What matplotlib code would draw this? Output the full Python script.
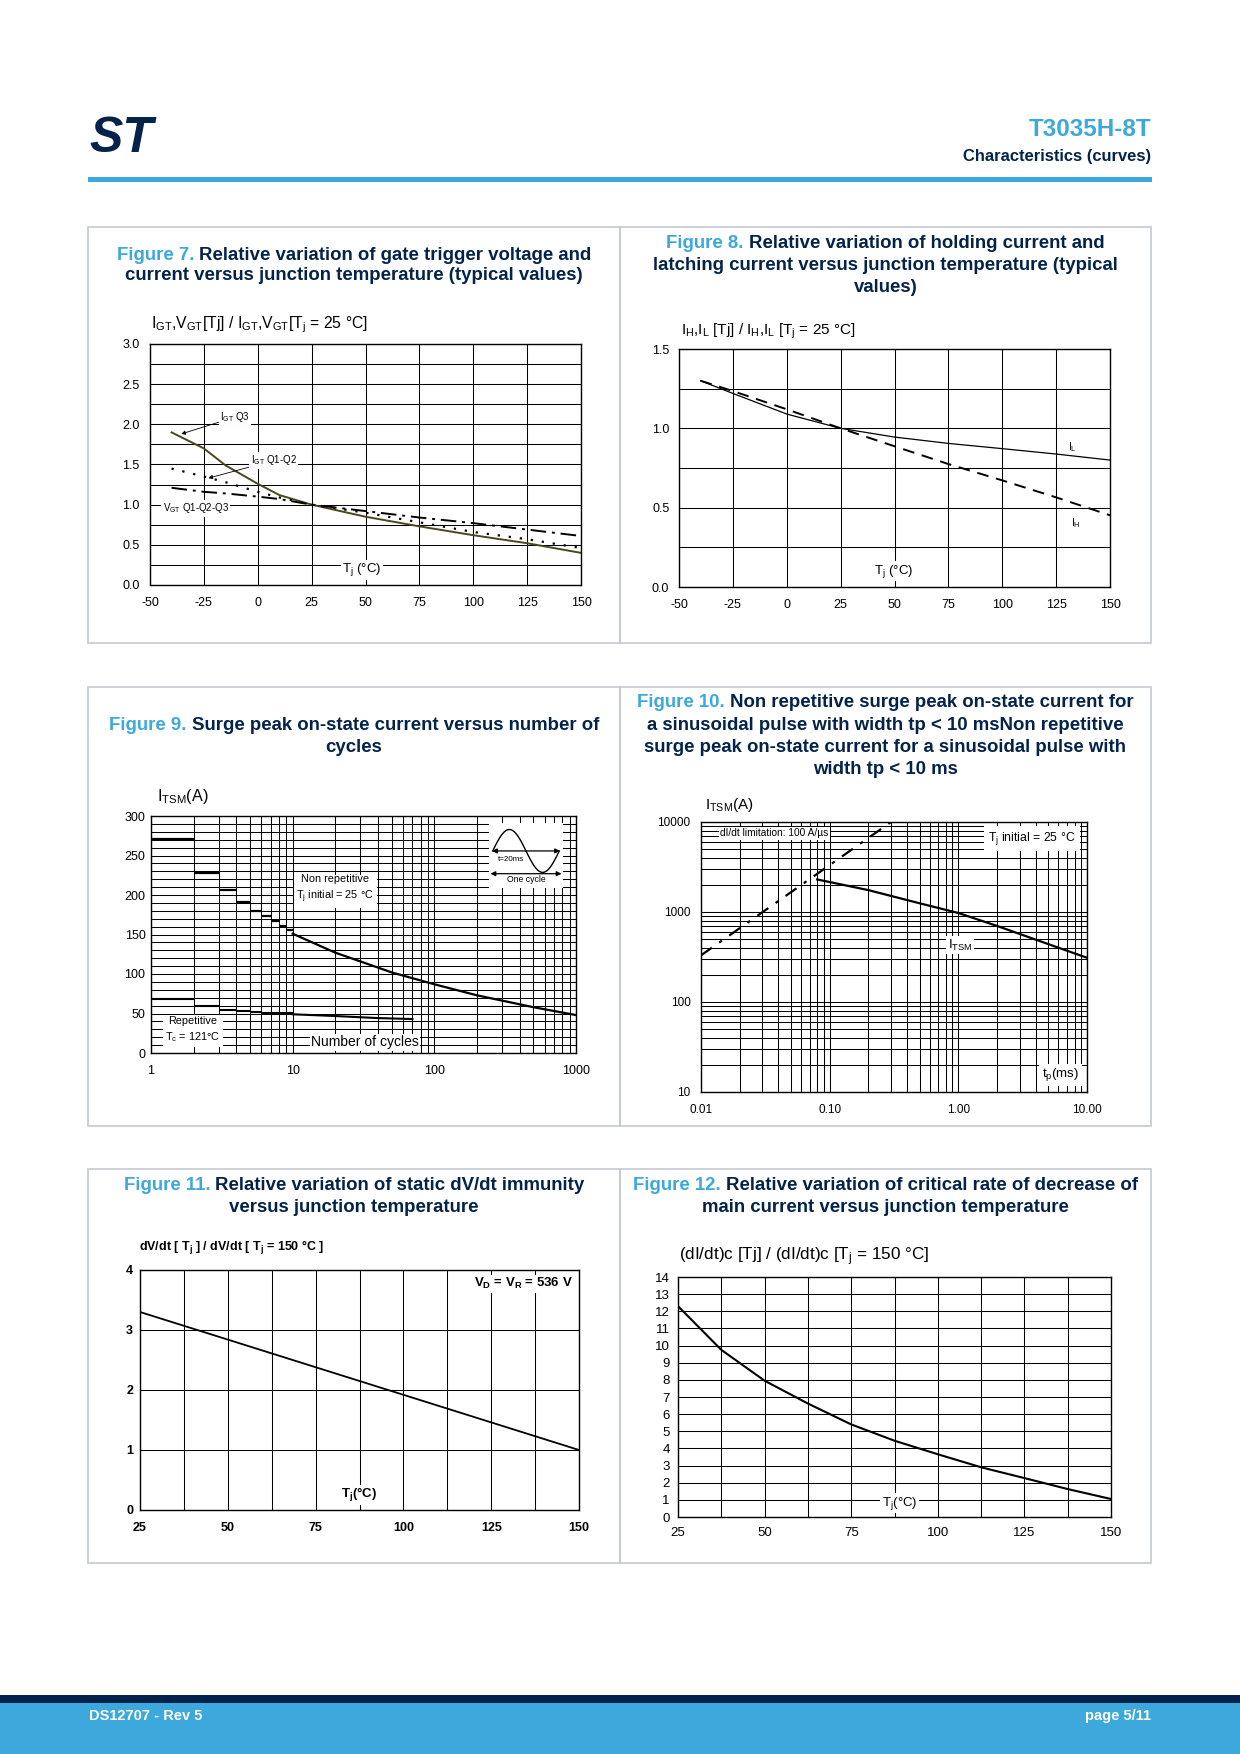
import numpy as np
import matplotlib
matplotlib.use('Agg')
import matplotlib.pyplot as plt
from matplotlib.patches import Rectangle
from matplotlib.ticker import LogLocator, NullFormatter, FixedLocator, FixedFormatter, MultipleLocator

W, H = 1240, 1754
NAVY = '#03234B'
BLUE = '#3CA8DC'
PANEL = '#C3CAD1'

plt.rcParams['font.family'] = ['Liberation Sans', 'DejaVu Sans']
plt.rcParams['axes.unicode_minus'] = False
plt.rcParams['mathtext.fontset'] = 'custom'
plt.rcParams['mathtext.rm'] = 'Liberation Sans'
plt.rcParams['mathtext.it'] = 'Liberation Sans:italic'
plt.rcParams['mathtext.bf'] = 'Liberation Sans:bold'

# ---- data ----
# fig 7
f7_tj = [-40, -25, -15, 0, 10, 25, 50, 75, 100, 125, 150]
igt_q3 = [1.90, 1.70, 1.49, 1.26, 1.12, 1.00, 0.85, 0.73, 0.62, 0.52, 0.40]
igt_q12 = [1.45, 1.35, 1.28, 1.16, 1.09, 1.00, 0.90, 0.78, 0.66, 0.57, 0.46]
vgt_q123 = [1.21, 1.16, 1.14, 1.10, 1.07, 1.00, 0.92, 0.84, 0.77, 0.69, 0.61]
# fig 8
f8_tj = [-40, -25, 0, 25, 50, 75, 100, 125, 150]
il = [1.30, 1.22, 1.09, 1.00, 0.945, 0.905, 0.872, 0.838, 0.80]
ih = [1.30, 1.235, 1.12, 1.00, 0.887, 0.775, 0.672, 0.565, 0.452]
# fig 9 (staircase parts: one level per cycle interval)
nonrep_step_n = [1, 2, 3, 4, 5, 6, 7, 8, 9, 10]
nonrep_step_a = [271, 228, 206, 191, 180, 173, 167, 161, 156]
nonrep_n = [10, 20, 30, 50, 100, 200, 500, 1000]
nonrep_a = [151, 127, 116, 102, 87, 73, 58, 48]
rep_step_n = [1, 2, 3, 4, 5, 6, 10]
rep_step_a = [68, 60, 55, 53, 51.5, 51]
rep_n = [10, 20, 40, 70]
rep_a = [49, 46.8, 44.2, 43]
# fig 10
tp_lim = [0.01, 0.3]
itsm_lim = [330, 10000]
tp = [0.08, 0.2, 0.5, 1, 2, 5, 10]
itsm = [2300, 1750, 1250, 975, 700, 440, 310]
# fig 11
f11_tj = [25, 50, 75, 100, 125, 150]
dvdt = [3.30, 2.84, 2.38, 1.92, 1.46, 1.00]
# fig 12
f12_tj = [25, 37.5, 50, 62.5, 75, 87.5, 100, 112.5, 125, 137.5, 150]
didt = [12.3, 9.75, 7.95, 6.62, 5.4, 4.45, 3.66, 2.9, 2.27, 1.63, 1.05]

fig = plt.figure(figsize=(12.4, 17.54), dpi=100)


def fx(x):
    return x / W


def fy(y):
    return 1 - y / H


def make_ax(x0, y0, x1, y1, size=9):
    ax = fig.add_axes([x0 / W, 1 - y1 / H, (x1 - x0) / W, (y1 - y0) / H])
    ax.tick_params(which='both', length=0, labelsize=size)
    for s in ax.spines.values():
        s.set_linewidth(1.0)
    ax.set_axisbelow(True)
    return ax


def grid(ax):
    ax.grid(True, which='both', color='black', lw=0.75)


def title(lines, cx, ys, size=13.4):
    r = fig.canvas.get_renderer()
    for segs, y in zip(lines, ys):
        if len(segs) == 1:
            fig.text(fx(cx), fy(y), segs[0], ha='center', va='center',
                     fontsize=size, fontweight='bold', color=NAVY)
            continue
        full = segs[0] + ' ' + segs[1]
        probe = fig.text(0, 0, full, fontsize=size, fontweight='bold')
        w = probe.get_window_extent(r).width
        probe.remove()
        fig.text(fx(cx - w / 2), fy(y), segs[0], ha='left', va='center',
                 fontsize=size, fontweight='bold', color=BLUE)
        fig.text(fx(cx + w / 2), fy(y), segs[1], ha='right', va='center',
                 fontsize=size, fontweight='bold', color=NAVY)


WB = dict(fc='white', ec='none', pad=1.0)

# ---- page frame ----
fig.text(fx(89), fy(139), 'ST', fontsize=36, fontweight='bold', fontstyle='italic',
         color=NAVY, ha='left', va='center')
fig.text(fx(1151), fy(130), 'T3035H-8T', fontsize=17.5, fontweight='bold',
         color=BLUE, ha='right', va='center')
fig.text(fx(1151), fy(157), 'Characteristics (curves)', fontsize=11.9,
         fontweight='bold', color=NAVY, ha='right', va='center')
fig.patches.append(Rectangle((fx(88), fy(182)), (1152 - 88) / W, 5 / H,
                             transform=fig.transFigure, fc=BLUE, ec='none'))
fig.patches.append(Rectangle((0, 0), 1, (H - 1695) / H, transform=fig.transFigure,
                             fc=NAVY, ec='none'))
fig.patches.append(Rectangle((0, 0), 1, (H - 1703) / H, transform=fig.transFigure,
                             fc=BLUE, ec='none'))
fig.text(fx(89), fy(1716), 'DS12707 - Rev 5', fontsize=10.5, fontweight='bold',
         color='white', ha='left', va='center')
fig.text(fx(1151), fy(1716), 'page 5/11', fontsize=10.5, fontweight='bold',
         color='white', ha='right', va='center')

for (x0, y0, x1, y1) in [(88, 227, 620, 643), (620, 227, 1151, 643),
                         (88, 687, 620, 1126), (620, 687, 1151, 1126),
                         (88, 1169, 620, 1563), (620, 1169, 1151, 1563)]:
    fig.patches.append(Rectangle((fx(x0), fy(y1)), (x1 - x0) / W, (y1 - y0) / H,
                                 transform=fig.transFigure, fc='none', ec=PANEL, lw=1.2))

# ---- Figure 7 ----
title([('Figure 7.', 'Relative variation of gate trigger voltage and'),
       ('current versus junction temperature (typical values)',)], 354, [255, 276])
ax = make_ax(150, 344, 581, 585)
ax.set_xlim(-50, 150)
ax.set_ylim(0, 3.0)
ax.set_xticks(range(-50, 151, 25))
ax.set_yticks(np.arange(0, 3.01, 0.5))
ax.set_yticks(np.arange(0, 3.01, 0.25), minor=True)
ax.yaxis.set_major_formatter(plt.FormatStrFormatter('%.1f'))
ax.tick_params(axis='y', pad=7.5)
ax.tick_params(axis='x', pad=8.5)
grid(ax)
ax.plot(f7_tj, igt_q3, color='#4A471E', lw=1.4)
ax.plot(f7_tj, igt_q12, color='black', lw=1.6, ls=(0, (1, 4)))
ax.plot(f7_tj, vgt_q123, color='black', lw=1.4, ls=(0, (8, 3, 1.5, 3)))
ap = dict(arrowstyle='-|>', lw=0.6, color='black', mutation_scale=6, shrinkA=0, shrinkB=0)
ax.annotate(r'$\mathrm{I_{GT}}$ Q3', xy=(-35.5, 1.88), xytext=(-17.5, 2.09), fontsize=7,
            va='center', ha='left', arrowprops=ap, bbox=WB)
ax.annotate(r'$\mathrm{I_{GT}}$ Q1-Q2', xy=(-22.9, 1.33), xytext=(-3.3, 1.55), fontsize=7,
            va='center', ha='left', arrowprops=ap, bbox=WB)
ax.text(-44.1, 0.955, r'$\mathrm{V_{GT}}$ Q1-Q2-Q3', fontsize=7, va='center', ha='left', bbox=WB)
ax.text(48.3, 0.19, r'$\mathrm{T_j}$ (°C)', fontsize=9.5, va='center', ha='center', bbox=WB)
fig.text(fx(151), fy(325), r'$\mathrm{I_{GT}}$,$\mathrm{V_{GT}}$[Tj] / $\mathrm{I_{GT}}$,'
         r'$\mathrm{V_{GT}}$[$\mathrm{T_j}$ = 25 °C]', fontsize=11.3, va='center', ha='left')

# ---- Figure 8 ----
title([('Figure 8.', 'Relative variation of holding current and'),
       ('latching current versus junction temperature (typical',),
       ('values)',)], 885.5, [243, 265, 287])
ax = make_ax(679, 349, 1110, 587)
ax.set_xlim(-50, 150)
ax.set_ylim(0, 1.5)
ax.set_xticks(range(-50, 151, 25))
ax.set_yticks(np.arange(0, 1.51, 0.5))
ax.set_yticks(np.arange(0, 1.51, 0.25), minor=True)
ax.yaxis.set_major_formatter(plt.FormatStrFormatter('%.1f'))
ax.tick_params(axis='y', pad=7)
ax.tick_params(axis='x', pad=9)
grid(ax)
ax.plot(f8_tj, il, color='black', lw=0.9)
ax.plot(f8_tj, ih, color='black', lw=1.4, ls=(0, (6, 4)))
ax.text(130.3, 0.884, r'$\mathrm{I_L}$', fontsize=7.5, va='center', ha='left')
ax.text(132, 0.40, r'$\mathrm{I_H}$', fontsize=7.5, va='center', ha='left')
ax.text(49.8, 0.10, r'$\mathrm{T_j}$ (°C)', fontsize=9.5, va='center', ha='center', bbox=WB)
fig.text(fx(681), fy(331.5), r'$\mathrm{I_H}$,$\mathrm{I_L}$ [Tj] / $\mathrm{I_H}$,'
         r'$\mathrm{I_L}$ [$\mathrm{T_j}$ = 25 °C]', fontsize=11, va='center', ha='left')

# ---- Figure 9 ----
title([('Figure 9.', 'Surge peak on-state current versus number of'),
       ('cycles',)], 354, [725, 747])
ax = make_ax(151, 816, 576, 1053)
ax.set_xscale('log')
ax.set_xlim(1, 1000)
ax.set_ylim(0, 300)
ax.xaxis.set_major_locator(FixedLocator([1, 10, 100, 1000]))
ax.xaxis.set_major_formatter(FixedFormatter(['1', '10', '100', '1000']))
ax.xaxis.set_minor_locator(LogLocator(base=10, subs=np.arange(2, 10)))
ax.xaxis.set_minor_formatter(NullFormatter())
ax.set_yticks(range(0, 301, 50))
ax.yaxis.set_minor_locator(MultipleLocator(10))
ax.tick_params(axis='y', pad=4)
ax.tick_params(axis='x', pad=8.5)
grid(ax)
ax.hlines(nonrep_step_a, nonrep_step_n[:-1], nonrep_step_n[1:], color='black', lw=1.6)
ax.plot(nonrep_n, nonrep_a, color='black', lw=1.6)
ax.hlines(rep_step_a, rep_step_n[:-1], rep_step_n[1:], color='black', lw=1.5)
ax.plot(rep_n, rep_a, color='black', lw=1.5)
ax.text(20, 207, 'Non repetitive\n' + r'$\mathrm{T_j}$ initial = 25 °C', fontsize=7.8,
        ha='center', va='center', linespacing=1.4, bbox=dict(fc='white', ec='none', pad=2))
ax.text(1.98, 29, 'Repetitive\n' + r'$\mathrm{T_c}$ = 121°C', fontsize=7.8,
        ha='center', va='center', linespacing=1.4, bbox=dict(fc='white', ec='none', pad=2))
ax.text(32.5, 13.5, 'Number of cycles', fontsize=10, ha='center', va='center', bbox=WB)
fig.text(fx(157), fy(797), r'$\mathrm{I_{TSM}}$(A)', fontsize=11.6, va='center', ha='left')
# small icon of one mains cycle
ai = fig.add_axes([fx(489), fy(888), 74 / W, 65 / H], zorder=5)
ai.set_xlim(0, 1)
ai.set_ylim(0, 1)
ai.axis('off')
ai.add_patch(Rectangle((0, 0), 1, 1, fc='white', ec='none'))
ph = np.linspace(0, 1, 80)
ai.plot(0.05 + 0.9 * ph, 0.57 + 0.33 * np.sin(2 * np.pi * ph), color='black', lw=1.0)
dbl = dict(arrowstyle='<|-|>', lw=0.9, color='black', mutation_scale=7, shrinkA=0, shrinkB=0)
ai.annotate('', xy=(0.04, 0.57), xytext=(0.96, 0.57), arrowprops=dbl)
ai.annotate('', xy=(0.02, 0.22), xytext=(0.98, 0.22), arrowprops=dbl)
ai.text(0.30, 0.44, 't=20ms', fontsize=5.8, ha='center', va='center')
ai.text(0.50, 0.13, 'One cycle', fontsize=6.2, ha='center', va='center')

# ---- Figure 10 ----
title([('Figure 10.', 'Non repetitive surge peak on-state current for'),
       ('a sinusoidal pulse with width tp < 10 msNon repetitive',),
       ('surge peak on-state current for a sinusoidal pulse with',),
       ('width tp < 10 ms',)], 885.5, [703, 725, 747, 769])
ax = make_ax(701, 822, 1087, 1092, size=8.5)
ax.set_xscale('log')
ax.set_yscale('log')
ax.set_xlim(0.01, 10)
ax.set_ylim(10, 10000)
ax.xaxis.set_major_locator(FixedLocator([0.01, 0.1, 1, 10]))
ax.xaxis.set_major_formatter(FixedFormatter(['0.01', '0.10', '1.00', '10.00']))
ax.yaxis.set_major_locator(FixedLocator([10, 100, 1000, 10000]))
ax.yaxis.set_major_formatter(FixedFormatter(['10', '100', '1000', '10000']))
for a in (ax.xaxis, ax.yaxis):
    a.set_minor_locator(LogLocator(base=10, subs=np.arange(2, 10)))
    a.set_minor_formatter(NullFormatter())
ax.tick_params(axis='y', pad=7.5)
ax.tick_params(axis='x', pad=8.5)
grid(ax)
ax.plot(tp_lim, itsm_lim, color='black', lw=1.6, ls=(0, (6, 4, 1.5, 4)))
ax.plot(tp, itsm, color='black', lw=1.6)
ax.text(0.0141, 7480, 'dI/dt limitation: 100 A/µs', fontsize=7.3, ha='left', va='center', bbox=WB)
ax.text(8.2, 6600, r'$\mathrm{T_j}$ initial = 25 °C', fontsize=8.8, ha='right', va='center',
        bbox=dict(fc='white', ec='none', pad=3))
ax.text(0.83, 430, r'$\mathrm{I_{TSM}}$', fontsize=9.5, ha='left', va='center', bbox=WB)
ax.text(8.65, 15.5, r'$\mathrm{t_p}$(ms)', fontsize=9.5, ha='right', va='center',
        bbox=dict(fc='white', ec='none', pad=2))
fig.text(fx(705), fy(805), r'$\mathrm{I_{TSM}}$(A)', fontsize=11, va='center', ha='left')

# ---- Figure 11 ----
title([('Figure 11.', 'Relative variation of static dV/dt immunity'),
       ('versus junction temperature',)], 354, [1186, 1207])
ax = make_ax(140, 1270, 579, 1510)
ax.set_xlim(25, 150)
ax.set_ylim(0, 4)
ax.set_xticks(range(25, 151, 25))
ax.xaxis.set_minor_locator(MultipleLocator(12.5))
ax.set_yticks(range(0, 5))
for lab in ax.get_xticklabels() + ax.get_yticklabels():
    lab.set_fontweight('bold')
ax.tick_params(axis='y', pad=5)
ax.tick_params(axis='x', pad=8.5)
grid(ax)
ax.plot(f11_tj, dvdt, color='black', lw=1.3)
ax.text(148.2, 3.77, r'$\mathbf{V_D}$ = $\mathbf{V_R}$ = 536 V', fontsize=9.5, fontweight='bold',
        ha='right', va='center', bbox=WB)
ax.text(87.4, 0.25, r'$\mathbf{T_j}$(°C)', fontsize=9.5, fontweight='bold', ha='center',
        va='center', bbox=WB)
fig.text(fx(139), fy(1248), r'dV/dt [ $\mathbf{T_j}$ ] / dV/dt [ $\mathbf{T_j}$ = 150 °C ]',
         fontsize=9, fontweight='bold', va='center', ha='left')

# ---- Figure 12 ----
title([('Figure 12.', 'Relative variation of critical rate of decrease of'),
       ('main current versus junction temperature',)], 885.5, [1186, 1207])
ax = make_ax(678, 1277, 1111, 1517, size=9.5)
ax.set_xlim(25, 150)
ax.set_ylim(0, 14)
ax.set_xticks(range(25, 151, 25))
ax.xaxis.set_minor_locator(MultipleLocator(12.5))
ax.set_yticks(range(0, 15))
ax.tick_params(axis='y', pad=6)
ax.tick_params(axis='x', pad=7)
grid(ax)
ax.plot(f12_tj, didt, color='black', lw=1.5)
ax.text(89, 0.8, r'$\mathrm{T_j}$(°C)', fontsize=9.5, ha='center', va='center', bbox=WB)
fig.text(fx(679), fy(1257), r'(dI/dt)c [Tj] / (dI/dt)c [$\mathrm{T_j}$ = 150 °C]',
         fontsize=12.3, va='center', ha='left')

fig.savefig('out.png', dpi=100, facecolor='white')
